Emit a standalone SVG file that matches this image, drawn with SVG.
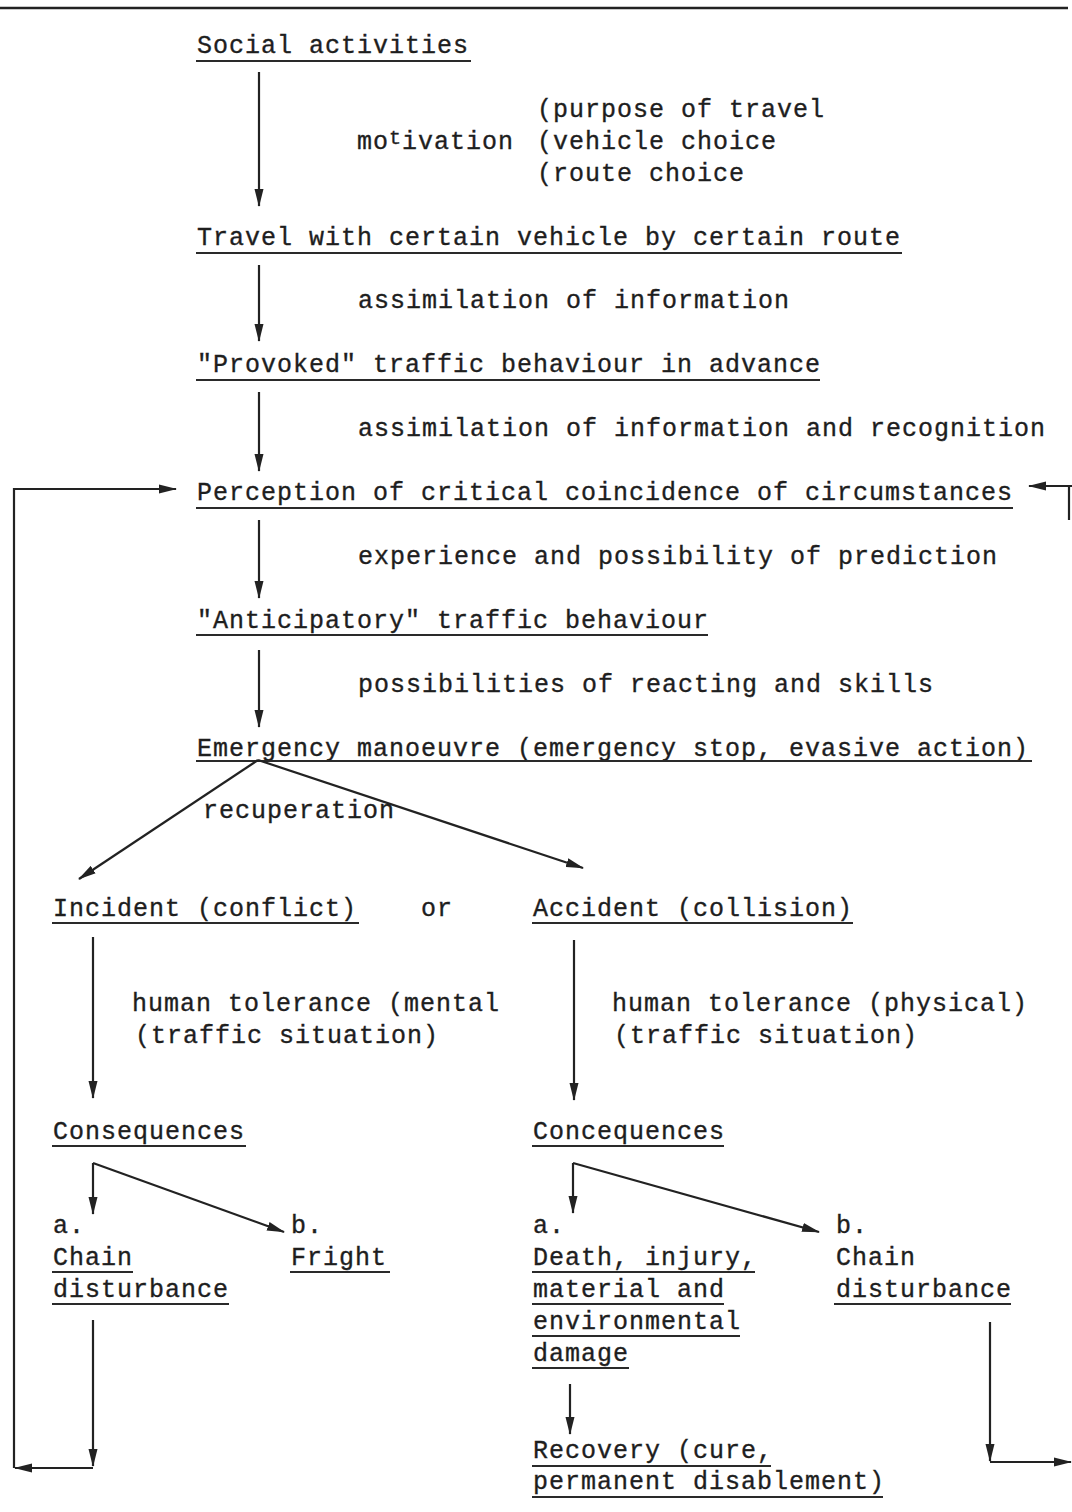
<svg xmlns="http://www.w3.org/2000/svg" width="1072" height="1512" viewBox="0 0 1072 1512">
<defs>
<marker id="ah" markerUnits="userSpaceOnUse" markerWidth="18" markerHeight="10" refX="17" refY="5" orient="auto">
<path d="M0,0.5 L18,5 L0,9.5 Z" fill="#222"/>
</marker>
<style>
text{font-family:"Liberation Mono","Courier New",monospace;font-size:25px;letter-spacing:1px;fill:#1e1e1e;stroke:#1e1e1e;stroke-width:0.35px}
.u{stroke:#2a2a2a;stroke-width:2;fill:none}
.c{stroke:#222;stroke-width:2.2;fill:none}
.a{marker-end:url(#ah)}
</style>
</defs>
<rect width="1072" height="1512" fill="#fff"/>
<line x1="0" y1="8" x2="1068" y2="8" stroke="#222" stroke-width="2.5"/>

<g id="n-social"><text x="197" y="53">Social activities</text><line class="u" x1="196" y1="61" x2="471" y2="61"/></g>
<g id="l-motivation">
<text x="537" y="117">(purpose of travel</text>
<text x="357" y="149">mo<tspan dy="-5" font-size="20">t</tspan><tspan dy="5">ivation</tspan></text>
<text x="537" y="149">(vehicle choice</text>
<text x="537" y="181">(route choice</text>
</g>
<g id="n-travel"><text x="197" y="245">Travel with certain vehicle by certain route</text><line class="u" x1="196" y1="253" x2="902" y2="253"/></g>
<g id="l-assim1"><text x="358" y="308">assimilation of information</text></g>
<g id="n-provoked"><text x="197" y="372">"Provoked" traffic behaviour in advance</text><line class="u" x1="196" y1="380" x2="820" y2="380"/></g>
<g id="l-assim2"><text x="358" y="436">assimilation of information and recognition</text></g>
<g id="n-perception"><text x="197" y="500">Perception of critical coincidence of circumstances</text><line class="u" x1="196" y1="508" x2="1013" y2="508"/></g>
<g id="l-experience"><text x="358" y="564">experience and possibility of prediction</text></g>
<g id="n-anticipatory"><text x="197" y="628">"Anticipatory" traffic behaviour</text><line class="u" x1="196" y1="635" x2="708" y2="635"/></g>
<g id="l-possibilities"><text x="358" y="692">possibilities of reacting and skills</text></g>
<g id="n-emergency"><text x="197" y="756">Emergency manoeuvre (emergency stop, evasive action)</text><line class="u" x1="196" y1="761" x2="1032" y2="761"/></g>
<g id="l-recuperation"><text x="203" y="818">recuperation</text></g>
<g id="n-incident"><text x="53" y="916">Incident (conflict)</text><line class="u" x1="52" y1="923" x2="359" y2="923"/></g>
<g id="l-or"><text x="421" y="916">or</text></g>
<g id="n-accident"><text x="533" y="916">Accident (collision)</text><line class="u" x1="532" y1="923" x2="853" y2="923"/></g>
<g id="l-mental"><text x="132" y="1011">human tolerance (mental</text><text x="135" y="1043">(traffic situation)</text></g>
<g id="l-physical"><text x="612" y="1011">human tolerance (physical)</text><text x="614" y="1043">(traffic situation)</text></g>
<g id="n-consequences"><text x="53" y="1139">Consequences</text><line class="u" x1="52" y1="1146" x2="246" y2="1146"/></g>
<g id="n-concequences"><text x="533" y="1139">Concequences</text><line class="u" x1="532" y1="1146" x2="724" y2="1146"/></g>
<g id="n-chain-left"><text x="53" y="1233">a.</text><text x="53" y="1265">Chain</text><line class="u" x1="52" y1="1272" x2="133" y2="1272"/><text x="53" y="1297">disturbance</text><line class="u" x1="52" y1="1304" x2="229" y2="1304"/></g>
<g id="n-fright"><text x="291" y="1233">b.</text><text x="291" y="1265">Fright</text><line class="u" x1="290" y1="1272" x2="390" y2="1272"/></g>
<g id="n-death"><text x="533" y="1233">a.</text><text x="533" y="1265">Death, injury,</text><line class="u" x1="532" y1="1272" x2="755" y2="1272"/><text x="533" y="1297">material and</text><line class="u" x1="532" y1="1304" x2="724" y2="1304"/><text x="533" y="1329">environmental</text><line class="u" x1="532" y1="1336" x2="740" y2="1336"/><text x="533" y="1361">damage</text><line class="u" x1="532" y1="1368" x2="629" y2="1368"/></g>
<g id="n-chain-right"><text x="836" y="1233">b.</text><text x="836" y="1265">Chain</text><text x="836" y="1297">disturbance</text><line class="u" x1="834" y1="1304" x2="1011" y2="1304"/></g>
<g id="n-recovery"><text x="533" y="1458">Recovery (cure,</text><line class="u" x1="532" y1="1466" x2="771" y2="1466"/><text x="533" y="1489">permanent disablement)</text><line class="u" x1="532" y1="1497" x2="883" y2="1497"/></g>

<g id="connectors">
<line class="c a" x1="259" y1="72" x2="259" y2="206"/>
<line class="c a" x1="259" y1="265" x2="259" y2="341"/>
<line class="c a" x1="259" y1="392" x2="259" y2="471"/>
<line class="c a" x1="259" y1="520" x2="259" y2="598"/>
<line class="c a" x1="259" y1="650" x2="259" y2="727"/>
<line class="c a" x1="258" y1="760" x2="79" y2="879"/>
<line class="c a" x1="258" y1="760" x2="583" y2="868"/>
<line class="c a" x1="93" y1="937" x2="93" y2="1098"/>
<line class="c a" x1="574" y1="940" x2="574" y2="1100"/>
<polyline class="c a" points="93,1163 93,1214"/>
<line class="c a" x1="93" y1="1163" x2="284" y2="1232"/>
<polyline class="c a" points="573,1163 573,1213"/>
<line class="c a" x1="573" y1="1163" x2="819" y2="1232"/>
<line class="c a" x1="570" y1="1384" x2="570" y2="1434"/>
<line class="c a" x1="93" y1="1320" x2="93" y2="1466"/>
<line class="c a" x1="93" y1="1468" x2="15" y2="1468"/>
<polyline class="c a" points="14,1468 14,489 176,489"/>
<line class="c a" x1="990" y1="1322" x2="990" y2="1461"/>
<line class="c a" x1="990" y1="1462" x2="1071" y2="1462"/>
<line class="c a" x1="1072" y1="486" x2="1029" y2="486"/>
<line class="c" x1="1069" y1="486" x2="1069" y2="520"/>
</g>
</svg>
